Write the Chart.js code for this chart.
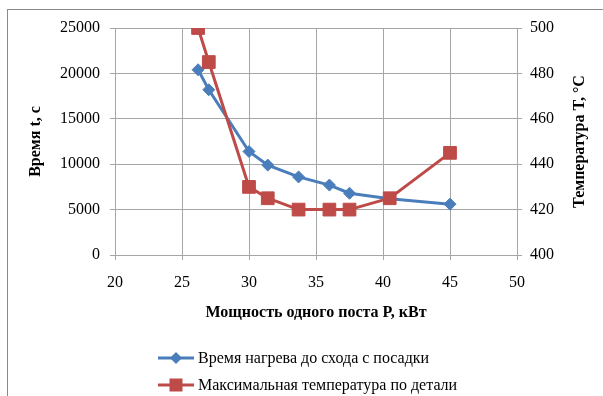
<!DOCTYPE html>
<html>
<head>
<meta charset="utf-8">
<script src="https://cdn.jsdelivr.net/npm/chart.js@4"></script>
<style>
  html, body { margin: 0; padding: 0; background: #fff; overflow: hidden; }
  #wrap { position: relative; width: 603px; height: 396px; }
  #frame { position: absolute; left: 7px; top: 9px; width: 700px; height: 500px; border: 1px solid #8a8a8a; }
  canvas { position: absolute; left: 0; top: 0; }
</style>
</head>
<body>
<div id="wrap"><div id="frame"></div><canvas id="chart" width="603" height="396"></canvas></div>
<script>
// мощность поста, кВт
const power = [26.2, 27.0, 30.0, 31.4, 33.7, 36.0, 37.5, 40.5, 45.0];
// время нагрева, с (левая ось)
const heatTime = [20400, 18200, 11400, 9900, 8600, 7700, 6800, 6200, 5600];
// максимальная температура, °C (правая ось)
const maxTemp = [500, 485, 430, 425, 420, 420, 420, 425, 445];

const seriesNames = ['Время нагрева до схода с посадки', 'Максимальная температура по детали'];
const xTitle = 'Мощность одного поста P, кВт';
const yTitle = 'Время t, с';
const y1Title = 'Температура T, °C';

const serif = '"Liberation Serif", "Times New Roman", serif';
const gridColor = '#a6a6a6';
const blue = '#4a7ebb';
const red = '#be4b48';

const toPoints = (xs, ys) => xs.map((x, i) => ({ x: x, y: ys[i] }));
const plain = v => String(v);

// подпись правой оси и легенда рисуются вручную
const extras = {
  id: 'extras',
  afterDraw(chart) {
    const ctx = chart.ctx;
    const area = chart.chartArea;
    ctx.save();
    ctx.fillStyle = '#000';
    ctx.font = 'bold 16px ' + serif;
    ctx.textAlign = 'center';
    ctx.textBaseline = 'middle';
    ctx.translate(580, (area.top + area.bottom) / 2);
    ctx.rotate(-Math.PI / 2);
    ctx.fillText(y1Title, 0, 0);
    ctx.restore();

    chart.data.datasets.forEach((ds, i) => {
      const y = 358 + i * 27;
      const cx = 176;
      ctx.save();
      ctx.strokeStyle = ds.borderColor;
      ctx.lineWidth = 3;
      ctx.beginPath();
      ctx.moveTo(158, y);
      ctx.lineTo(194, y);
      ctx.stroke();
      ctx.fillStyle = ds.backgroundColor;
      ctx.beginPath();
      if (ds.pointStyle === 'rectRot') {
        ctx.moveTo(cx - 6, y); ctx.lineTo(cx, y - 6); ctx.lineTo(cx + 6, y); ctx.lineTo(cx, y + 6);
        ctx.closePath();
      } else {
        ctx.rect(cx - 6.5, y - 6.5, 13, 13);
      }
      ctx.fill();
      ctx.fillStyle = '#000';
      ctx.font = '16px ' + serif;
      ctx.textAlign = 'left';
      ctx.textBaseline = 'middle';
      ctx.fillText(ds.label, 198, y + 1);
      ctx.restore();
    });
  }
};

new Chart(document.getElementById('chart'), {
  type: 'scatter',
  data: {
    datasets: [
      {
        label: seriesNames[0],
        data: toPoints(power, heatTime),
        yAxisID: 'y',
        showLine: true,
        borderColor: blue,
        backgroundColor: blue,
        borderWidth: 3,
        pointStyle: 'rectRot',
        pointRadius: 6,
        pointBorderWidth: 1,
        order: 1
      },
      {
        label: seriesNames[1],
        data: toPoints(power, maxTemp),
        yAxisID: 'y1',
        showLine: true,
        borderColor: red,
        backgroundColor: red,
        borderWidth: 3,
        pointStyle: 'rect',
        pointRadius: 9,
        pointBorderWidth: 1,
        order: 0
      }
    ]
  },
  options: {
    responsive: false,
    animation: false,
    layout: { padding: { top: 28, left: 0, right: 0, bottom: 70 } },
    plugins: { legend: { display: false }, tooltip: { enabled: false } },
    scales: {
      x: {
        type: 'linear', min: 20, max: 50,
        ticks: { stepSize: 5, color: '#000', padding: 13, callback: plain, font: { family: serif, size: 16 } },
        grid: { color: gridColor, tickLength: 5 },
        border: { color: gridColor },
        title: { display: true, text: xTitle, color: '#000', padding: { top: 0, bottom: 4 }, font: { family: serif, size: 16, weight: 'bold' } },
        afterFit: s => { s.height = 71; }
      },
      y: {
        position: 'left', min: 0, max: 25000,
        ticks: { stepSize: 5000, color: '#000', padding: 10, callback: plain, font: { family: serif, size: 16 } },
        grid: { color: gridColor, tickLength: 5 },
        border: { color: gridColor },
        title: { display: true, text: yTitle, color: '#000', padding: { top: 26, bottom: 0 }, font: { family: serif, size: 16, weight: 'bold' } },
        afterFit: s => { s.width = 115; }
      },
      y1: {
        position: 'right', min: 400, max: 500,
        ticks: { stepSize: 20, color: '#000', padding: 8, callback: plain, font: { family: serif, size: 16 } },
        grid: { color: gridColor, tickLength: 5, drawOnChartArea: false },
        border: { color: gridColor },
        afterFit: s => { s.width = 86; }
      }
    }
  },
  plugins: [extras]
});
</script>
</body>
</html>
